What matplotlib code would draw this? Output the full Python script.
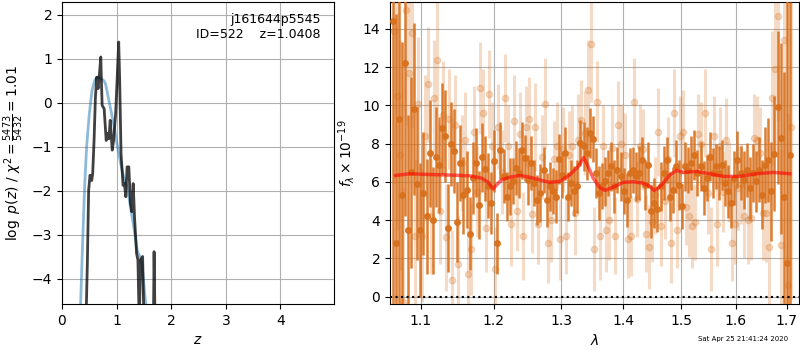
import numpy as np
import matplotlib
matplotlib.use('Agg')
import matplotlib.pyplot as plt
from matplotlib.ticker import NullLocator

# p(z) panel: black = log p(z), blue = smoothed fit
z_pz = [0.0, 0.42, 0.439, 0.464, 0.488, 0.513, 0.544, 0.562, 0.587, 0.612, 0.636,
        0.661, 0.686, 0.71, 0.723, 0.735, 0.772, 0.809, 0.834, 0.859, 0.883, 0.92,
        0.945, 0.982, 1.019, 1.038, 1.056, 1.081, 1.118, 1.143, 1.167, 1.192, 1.223,
        1.254, 1.278, 1.303, 1.328, 1.365, 1.39, 1.414, 1.439, 1.476, 1.5, 1.6,
        1.674, 1.686, 1.704, 1.8, 5.0]
logp = [-10, -6, -5.0, -3.66, -1.99, -1.65, -1.77, -1.61, -0.86, 0.13, 0.58,
        0.32, 0.66, 1.04, 0.43, -0.06, -0.14, -0.86, -0.7, -0.82, -0.4, -1.08,
        -0.86, -0.25, 0.81, 1.38, 0.51, -1.16, -1.88, -1.84, -2.14, -1.46, -1.46,
        -2.3, -2.48, -1.84, -2.6, -3.43, -3.58, -5.0, -3.58, -3.5, -5.0, -6.0,
        -5.0, -3.39, -5.0, -7, -10]

z_fit = [0.0, 0.34, 0.377, 0.414, 0.451, 0.5, 0.55, 0.6, 0.649, 0.698, 0.76,
         0.797, 0.834, 0.883, 0.945, 1.007, 1.068, 1.13, 1.192, 1.254, 1.315,
         1.377, 1.427, 1.464, 1.513, 1.537, 1.6, 5.0]
logp_fit = [-12, -4.6, -3.2, -1.92, -1.0, -0.25, 0.28, 0.51, 0.58, 0.56, 0.51,
            0.43, 0.2, -0.1, -0.48, -0.93, -1.35, -1.69, -1.92, -2.37, -2.83,
            -3.36, -3.51, -3.66, -4.34, -4.6, -5.5, -20]

# spectrum panel
dark_flux = [14.4, 2.8, 9.3, 5.3, 12.2, 3.5, 6.5, 9.8, 5.9, 3.5, 5.4, 4.2, 7.5, 4.0, 7.3,
             6.9, 8.8, 8.4, 3.6, 8.0, 7.6, 3.9, 7.0, 5.3, 5.6, 3.3, 6.2, 7.0, 4.8, 7.3,
             6.7, 5.8, 4.9, 7.1, 2.8,
             7.65, 6.32, 5.24, 5.77, 6.03, 6.72, 6.46, 7.65, 7.25, 6.11, 6.99, 5.94, 5.07,
             5.42, 6.64, 5.07, 5.77, 5.51, 5.24, 7.2, 6.38, 7.5, 5.24, 5.94, 5.51, 5.77,
             8.03, 7.86, 7.5, 8.55, 8.24, 6.46, 5.42, 5.77, 6.03,
             6.46, 6.81, 5.77, 6.64, 6.29, 5.51, 5.07, 6.46, 6.64, 6.29, 6.46, 7.16, 5.85,
             6.9, 4.46, 4.9, 4.58, 5.77, 6.46, 7.16, 5.24, 5.59, 6.81, 5.85, 4.72, 6.81,
             6.64, 6.99, 7.42, 6.46, 6.81, 5.68, 6.2, 7.33,
             6.46, 6.81, 6.46, 6.9, 5.94, 5.51, 4.9, 6.2, 7.16, 6.46, 6.11, 6.64, 5.68,
             6.46, 6.03, 6.64, 5.33, 6.9, 7.16, 5.51, 7.47, 9.91, 8.29, 5.24, 1.76, 7.42]
dark_err = [15, 12, 10, 8, 8, 6, 5, 4.5, 4, 3.5, 3.2, 3, 2.8, 2.8, 2.6, 2.5, 2.4, 2.4,
            2.3, 2.2, 2.2, 2.1, 2.0, 2.0, 2.0, 1.9, 1.9, 1.8, 1.8, 1.8, 1.7, 1.7, 1.6,
            1.6, 1.6,
            1.5, 1.4, 1.3, 1.5, 1.2, 1.4, 1.3, 1.5, 1.2, 1.3, 1.4, 1.2, 1.3, 1.5, 1.2,
            1.4, 1.3, 1.2, 1.4, 1.3, 1.2, 1.4, 1.3, 1.2, 1.3, 1.4, 1.2, 1.3, 1.4, 1.3,
            1.2, 1.3, 1.4, 1.2, 1.3,
            1.2, 1.3, 1.4, 1.2, 1.3, 1.2, 1.4, 1.3, 1.2, 1.3, 1.4, 1.2, 1.3, 1.2, 1.4,
            1.3, 1.2, 1.3, 1.4, 1.2, 1.3, 1.2, 1.4, 1.3, 1.2, 1.3, 1.2, 1.4, 1.3, 1.2,
            1.3, 1.4, 1.2, 1.3,
            1.3, 1.2, 1.4, 1.3, 1.2, 1.4, 1.3, 1.4, 1.5, 1.4, 1.5, 1.4, 1.6, 1.5, 1.6,
            1.7, 1.8, 2.0, 2.2, 2.6, 3.0, 4.0, 5.0, 6.5, 14.0, 8.0]

light_flux = [13.9, 10.5, 7.4, -0.3, 15.0, 11.7, 13.8, 3.2, 10.1, 3.2, 8.4, 11.1, 4.2,
              10.4, 12.4, 4.5, 9.5, 3.1, 9.3, 0.9, 9.0, 1.7, 7.0, 8.2, 1.2, 2.5, 8.6,
              5.5, 10.9, 9.6, 3.6, 10.6, 7.9, 1.45, 8.9,
              6.5, 10.4, 7.9, 3.8, 9.2, 4.5, 8.5, 3.2, 8.9, 9.3, 4.3, 8.9, 3.8, 7.3,
              10.1, 2.8, 4.0, 7.2, 7.9, 3.0, 7.7, 3.2, 7.4, 7.9, 4.4, 8.2, 9.25, 8.55,
              10.8, 13.2, 2.5, 10.2, 3.2, 7.9, 3.5,
              4.0, 7.8, 3.2, 9.0, 8.0, 7.4, 3.0, 3.2, 10.2, 5.1, 7.9, 7.7, 3.3, 2.6,
              3.9, 5.3, 8.6, 3.7, 5.0, 7.2, 2.8, 9.6, 3.5, 8.4, 8.6, 4.7, 4.2, 3.7,
              3.9, 8.5, 8.0, 9.6, 5.4, 2.5,
              8.4, 3.8, 7.9, 5.5, 8.2, 6.0, 2.8, 3.8, 5.7, 5.9, 4.2, 4.0, 4.1, 8.3,
              8.2, 7.5, 4.4, 4.4, 2.6, 10.4, 11.9, 14.7, 2.7, 13.4, 0.6, 8.9]
light_err = [8, 7, 6, 6, 6, 5, 5, 4, 3.5, 3.5, 3.2, 3, 3, 3, 3, 2.8, 2.8, 2.8, 2.6,
             2.6, 2.6, 2.5, 2.5, 2.5, 2.5, 2.4, 2.4, 2.4, 2.4, 2.3, 2.3, 2.3, 2.3,
             2.2, 2.2,
             2.2, 2.3, 2.1, 2.2, 2.4, 2.1, 2.2, 2.3, 2.1, 2.2, 2.0, 2.3, 2.1, 2.2,
             2.4, 2.1, 2.2, 2.0, 2.3, 2.1, 2.2, 2.0, 2.3, 2.1, 2.2, 2.4, 2.1, 2.2,
             2.6, 3.0, 2.2, 2.1, 2.3, 2.1, 2.2,
             2.1, 2.2, 2.0, 2.3, 2.1, 2.2, 2.0, 2.1, 2.3, 2.0, 2.2, 2.1, 2.0, 2.2,
             2.1, 2.0, 2.3, 2.1, 2.0, 2.2, 2.1, 2.3, 2.0, 2.1, 2.2, 2.0, 2.1, 2.2,
             2.0, 2.1, 2.2, 2.3, 2.1, 2.2,
             2.1, 2.2, 2.0, 2.1, 2.2, 2.1, 2.0, 2.1, 2.2, 2.1, 2.2, 2.3, 2.2, 2.3,
             2.3, 2.4, 2.5, 2.6, 3.0, 3.5, 4.5, 5.5, 5.0, 7.0, 9.0, 9.0]

# grism pixels (log-spaced wavelength grid, microns)
dark_wave = np.geomspace(1.064, 1.7064, len(dark_flux))
light_wave = np.geomspace(1.0655, 1.708, len(light_flux))

model_wave = [1.0678, 1.0861, 1.1122, 1.139, 1.1664, 1.1827, 1.1921, 1.199, 1.204,
              1.2111, 1.2231, 1.2378, 1.2526, 1.2726, 1.2827, 1.298, 1.3136, 1.3266,
              1.3355, 1.3399, 1.3506, 1.3614, 1.3695, 1.3831, 1.3996, 1.4164, 1.4333,
              1.4448, 1.4517, 1.4591, 1.4678, 1.4796, 1.4914, 1.5032, 1.5272, 1.5516,
              1.5763, 1.608, 1.6402, 1.6729, 1.7064]
model_flux = [6.34, 6.43, 6.39, 6.36, 6.32, 6.2, 5.98, 5.64, 5.85, 6.11, 6.25, 6.34,
              6.25, 6.06, 5.98, 6.03, 6.38, 6.81, 7.28, 6.99, 6.2, 5.68, 5.56, 5.73,
              5.98, 6.01, 5.94, 5.77, 5.56, 5.68, 5.94, 6.38, 6.6, 6.5, 6.55, 6.43,
              6.29, 6.29, 6.43, 6.5, 6.43]

wave_ticks = [1.1, 1.2, 1.3, 1.4, 1.5, 1.6, 1.7]
orange = '#d8701c'

fig = plt.figure(figsize=(8, 3.5), dpi=100)

# ---- left: p(z)
ax = fig.add_axes([62/800, 46/350, 272/800, 302/350])
ax.plot(z_fit, logp_fit, color='tab:blue', alpha=0.5, lw=2)
ax.plot(z_pz, logp, color='k', alpha=0.75, lw=2)
ax.set_xlim(0, 4.98)
ax.set_ylim(-4.58, 2.29)
ax.set_xticks([0, 1, 2, 3, 4])
ax.set_yticks([-4, -3, -2, -1, 0, 1, 2])
ax.set_xlabel(r'$z$')
ax.set_ylabel(r'$\log\ p(z)$ / $\chi^2=\frac{5473}{5432}=1.01$')
ax.text(0.95, 0.965, 'j161644p5545\nID=522    z=1.0408', ha='right', va='top',
        transform=ax.transAxes, fontsize=9)
ax.grid()

# ---- right: spectrum
ax2 = fig.add_axes([390/800, 46/350, 409/800, 302/350])
ax2.errorbar(light_wave, light_flux, yerr=light_err, fmt='o', color=orange,
             alpha=0.25, ms=4.5, lw=2, elinewidth=2.2, zorder=2)
ax2.errorbar(dark_wave, dark_flux, yerr=dark_err, fmt='o', color=orange,
             alpha=0.9, ms=4, lw=2, elinewidth=1.8, zorder=3)
ax2.plot(model_wave, model_flux, color='r', alpha=0.6, lw=2.5, zorder=4)
ax2.axhline(0, color='k', ls=':', lw=1.5, zorder=5)

ax2.set_xscale('log')
ax2.set_xlim(1.0606, 1.7251)
ax2.set_xticks(wave_ticks)
ax2.set_xticklabels(['%.1f' % w for w in wave_ticks])
ax2.xaxis.set_minor_locator(NullLocator())
ax2.set_ylim(-0.38, 15.41)
ax2.set_yticks(range(0, 15, 2))
ax2.set_xlabel(r'$\lambda$')
ax2.set_ylabel(r'$f_\lambda\times10^{-19}$')
ax2.grid()

fig.text(0.985, 0.022, 'Sat Apr 25 21:41:24 2020', ha='right', va='bottom', fontsize=5)

fig.savefig('out.png', dpi=100)
